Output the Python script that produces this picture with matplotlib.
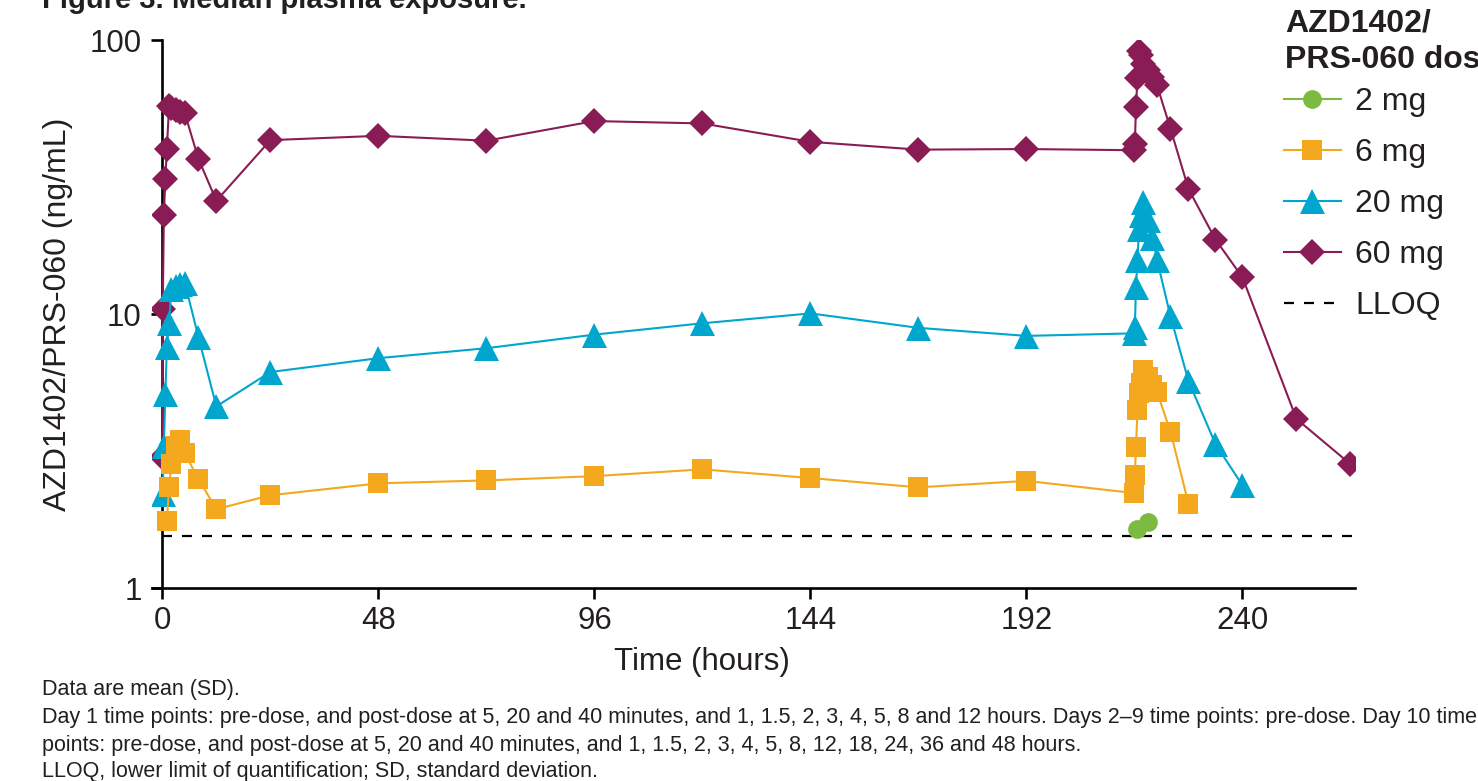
import matplotlib
matplotlib.use("Agg")
import matplotlib.pyplot as plt
from matplotlib.ticker import NullLocator, FixedLocator

plt.rcParams["font.family"] = ["Liberation Sans", "DejaVu Sans"]

# ── data (median plasma concentration, ng/mL) ─────────────────────────────
t_2mg = [216.667, 219]
c_2mg = [1.64, 1.74]

t_6mg = [1, 1.5, 2, 3, 4, 5, 8, 12,
         24, 48, 72, 96, 120, 144, 168, 192, 216,
         216.083, 216.333, 216.667, 217, 217.5, 218, 219, 220, 221, 224, 228]
c_6mg = [1.76, 2.33, 2.84, 3.3, 3.46, 3.1, 2.5, 1.94,
         2.18, 2.41, 2.47, 2.56, 2.71, 2.52, 2.33, 2.46, 2.22,
         2.58, 3.27, 4.46, 5.14, 5.59, 6.25, 5.9, 5.5, 5.2, 3.72, 2.03]

t_20mg = [0.083, 0.333, 0.667, 1, 1.5, 2, 3, 4, 5, 8, 12,
          24, 48, 72, 96, 120, 144, 168, 192, 216,
          216.083, 216.333, 216.667, 217, 217.5, 218, 219, 220, 221,
          224, 228, 234, 240]
c_20mg = [2.2, 3.3, 5.1, 7.6, 9.3, 12.3, 12.6, 12.9, 13.0, 8.25, 4.6,
          6.14, 6.9, 7.5, 8.41, 9.25, 10.05, 8.9, 8.32, 8.5,
          9.0, 12.5, 15.8, 20.4, 22.9, 25.6, 22.0, 19.0, 15.8,
          9.8, 5.7, 3.35, 2.37]

t_60mg = [0, 0.083, 0.333, 0.667, 1, 1.5, 2, 3, 4, 5, 8, 12,
          24, 48, 72, 96, 120, 144, 168, 192, 216,
          216.083, 216.333, 216.667, 217, 217.5, 218, 219, 220, 221,
          224, 228, 234, 240, 252, 264]
c_60mg = [3.0, 10.4, 22.9, 31.2, 40.1, 57.6, 56.5, 55.5, 54.8, 54.0, 36.9, 25.9,
          43.1, 44.7, 42.9, 50.6, 49.6, 42.5, 39.8, 40.0, 39.6,
          41.9, 57.1, 72.6, 91.0, 88.0, 82.0, 78.0, 73.0, 68.4,
          47.5, 28.6, 18.7, 13.6, 4.14, 2.83]

LLOQ = 1.55

x_ticks = [0, 48, 96, 144, 192, 240]
y_ticks = [1, 10, 100]

legend_title = ["AZD1402/", "PRS-060 dose"]
notes = [
    "Data are mean (SD).",
    "Day 1 time points: pre-dose, and post-dose at 5, 20 and 40 minutes, and 1, 1.5, 2, 3, 4, 5, 8 and 12 hours. "
    "Days 2\u20139 time points: pre-dose. Day 10 time",
    "points: pre-dose, and post-dose at 5, 20 and 40 minutes, and 1, 1.5, 2, 3, 4, 5, 8, 12, 18, 24, 36 and 48 hours.",
    "LLOQ, lower limit of quantification; SD, standard deviation.",
]

# ── styles ───────────────────────────────────────────────────────────────
GREEN, ORANGE, BLUE, PURPLE = "#7DBA42", "#F4A81D", "#00A6CE", "#8A1C55"
TXT = "#231F20"
W, H = 1478, 781

fig = plt.figure(figsize=(W / 100, H / 100), dpi=100)
ax = fig.add_axes([152 / W, 1 - 588 / H, 1203 / W, 548 / H])

lw = 1.5
ax.plot(t_60mg, c_60mg, "-", color=PURPLE, lw=lw, marker="D", ms=13, mew=0, label="60 mg", zorder=3)
ax.plot(t_20mg, c_20mg, "-", color=BLUE, lw=lw, marker="^", ms=18, mew=0, label="20 mg", zorder=4)
ax.plot(t_6mg, c_6mg, "-", color=ORANGE, lw=lw, marker="s", ms=14.5, mew=0, label="6 mg", zorder=5)
ax.plot(t_2mg, c_2mg, "-", color=GREEN, lw=lw, marker="o", ms=13.5, mew=0, label="2 mg", zorder=6)
ax.hlines(LLOQ, 0, 265, colors="black", linestyles=(0, (4.5, 4.5)), lw=1.6, label="LLOQ", zorder=2)

ax.set_yscale("log")
ax.set_ylim(1, 100)
ax.set_xlim(-2.3, 265)
ax.yaxis.set_major_locator(FixedLocator(y_ticks))
ax.yaxis.set_minor_locator(NullLocator())
ax.set_yticklabels([str(v) for v in y_ticks])
ax.set_xticks(x_ticks)

for s in ("top", "right"):
    ax.spines[s].set_visible(False)
ax.spines["left"].set_position(("data", 0))
for s in ("left", "bottom"):
    ax.spines[s].set_linewidth(1.9)
ax.tick_params(axis="both", width=1.9, length=8, labelsize=22.5, colors="black", labelcolor=TXT)
ax.tick_params(axis="y", pad=7)
ax.tick_params(axis="x", pad=5)

fig.text(58 / W, 1 - 314 / H, "AZD1402/PRS-060 (ng/mL)", rotation=90,
         ha="center", va="center", fontsize=23, color=TXT)
fig.text(702 / W, 1 - 662 / H, "Time (hours)", ha="center", va="center",
         fontsize=22.5, color=TXT)

fig.text(42 / W, 1 - 8 / H, "Figure 3. Median plasma exposure.", ha="left",
         va="baseline", fontsize=21, fontweight="bold", color=TXT)

# legend (title drawn as two text lines, entries via fig.legend)
for line, yb in zip(legend_title, [32, 68.5]):
    fig.text(1285 / W, 1 - yb / H, line, ha="left", va="baseline",
             fontsize=23, fontweight="bold", color=TXT)

handles, labels = ax.get_legend_handles_labels()
order = ["2 mg", "6 mg", "20 mg", "60 mg", "LLOQ"]
hmap = dict(zip(labels, handles))
leg = fig.legend([hmap[k] for k in order], order, loc="upper left",
                 bbox_to_anchor=(1284 / W, 1 - 87 / H), frameon=False,
                 fontsize=23, handlelength=1.78, handletextpad=0.45,
                 labelspacing=0.66, borderpad=0, borderaxespad=0)
for t in leg.get_texts():
    t.set_color(TXT)

for i, line in enumerate(notes):
    fig.text(42 / W, 1 - [690, 718, 745, 771][i] / H, line, ha="left",
             va="center", fontsize=15.5, color=TXT)

fig.savefig("out.png", dpi=100)
